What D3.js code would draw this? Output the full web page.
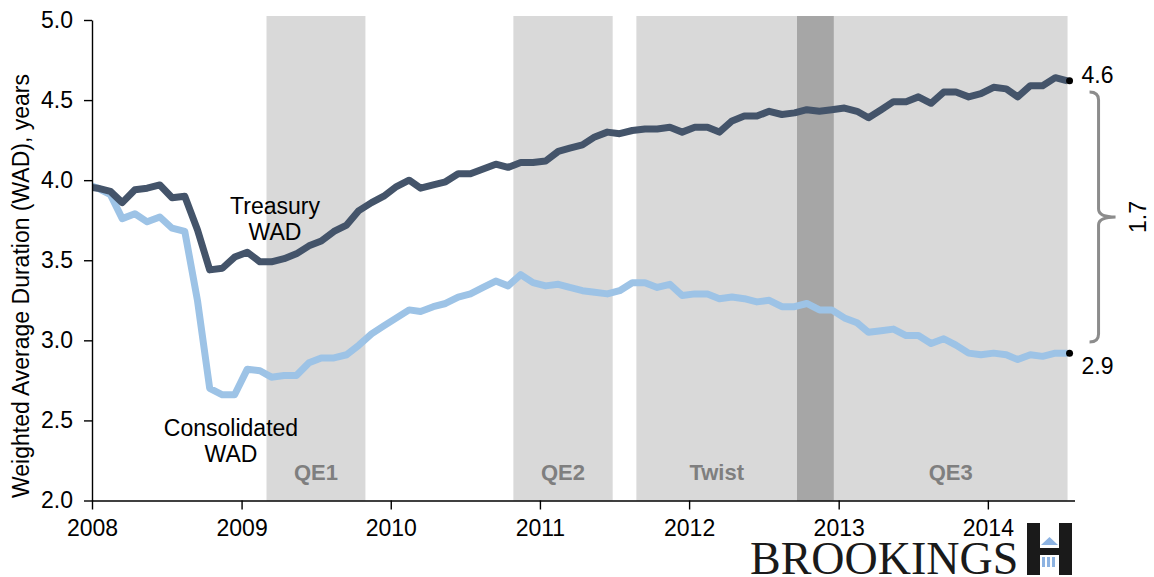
<!DOCTYPE html>
<html>
<head>
<meta charset="utf-8">
<script src="https://cdn.jsdelivr.net/npm/d3@7"></script>
<style>
  body { margin: 0; background: #fff; }
  svg { display: block; font-family: "Liberation Sans", Arial, sans-serif; }
</style>
</head>
<body>
<svg id="chart" width="1154" height="577"></svg>
<script>
// monthly observations, Dec 2007 .. Jul 2014 (plotted mid-month)
var startMonth = new Date(2007, 11, 15);

var treasury = [3.96,
  3.95, 3.93, 3.86, 3.94, 3.95, 3.97, 3.89, 3.90, 3.69, 3.44, 3.45, 3.52,
  3.55, 3.49, 3.49, 3.51, 3.54, 3.59, 3.62, 3.68, 3.72, 3.81, 3.86, 3.90,
  3.96, 4.00, 3.95, 3.97, 3.99, 4.04, 4.04, 4.07, 4.10, 4.08, 4.11, 4.11,
  4.12, 4.18, 4.20, 4.22, 4.27, 4.30, 4.29, 4.31, 4.32, 4.32, 4.33, 4.30,
  4.33, 4.33, 4.30, 4.37, 4.40, 4.40, 4.43, 4.41, 4.42, 4.44, 4.43, 4.44,
  4.45, 4.43, 4.39, 4.44, 4.49, 4.49, 4.52, 4.48, 4.55, 4.55, 4.52, 4.54,
  4.58, 4.57, 4.52, 4.59, 4.59, 4.64, 4.62];

var consolidated = [3.98,
  3.95, 3.91, 3.76, 3.79, 3.74, 3.77, 3.70, 3.68, 3.25, 2.70, 2.66, 2.66,
  2.82, 2.81, 2.77, 2.78, 2.78, 2.86, 2.89, 2.89, 2.91, 2.97, 3.04, 3.09,
  3.14, 3.19, 3.18, 3.21, 3.23, 3.27, 3.29, 3.33, 3.37, 3.34, 3.41, 3.36,
  3.34, 3.35, 3.33, 3.31, 3.30, 3.29, 3.31, 3.36, 3.36, 3.33, 3.35, 3.28,
  3.29, 3.29, 3.26, 3.27, 3.26, 3.24, 3.25, 3.21, 3.21, 3.23, 3.19, 3.19,
  3.14, 3.11, 3.05, 3.06, 3.07, 3.03, 3.03, 2.98, 3.01, 2.97, 2.92, 2.91,
  2.92, 2.91, 2.88, 2.91, 2.90, 2.92, 2.92];

// policy periods
var programs = [
  {name: "QE1",   start: new Date(2009, 2, 3),   end: new Date(2009, 9, 31)},
  {name: "QE2",   start: new Date(2010, 9, 28),  end: new Date(2011, 5, 28)},
  {name: "Twist", start: new Date(2011, 7, 25),  end: new Date(2012, 11, 20)},
  {name: "QE3",   start: new Date(2012, 8, 21),  end: null}
];
var overlap = {start: new Date(2012, 8, 21), end: new Date(2012, 11, 20)};

var yTicks = [2.0, 2.5, 3.0, 3.5, 4.0, 4.5, 5.0];
var yearTicks = [2008, 2009, 2010, 2011, 2012, 2013, 2014];

var dates = treasury.map(function(d, i) { return d3.timeMonth.offset(startMonth, i); });
var lastDate = dates[dates.length - 1];
programs[3].end = lastDate;

var svg = d3.select("#chart");
var plotLeft = 92, plotTop = 20, plotBottom = 500.5;

var x = d3.scaleTime()
    .domain([new Date(2008, 0, 1), new Date(2014, 7, 1)])
    .range([plotLeft, 1074.5]);
var y = d3.scaleLinear().domain([2, 5]).range([plotBottom, plotTop]);

// shaded periods
var shadeTop = y(5.025);
svg.append("g").selectAll("rect")
    .data(programs)
  .enter().append("rect")
    .attr("x", function(d) { return x(d.start); })
    .attr("width", function(d) { return x(d.end) - x(d.start); })
    .attr("y", shadeTop)
    .attr("height", plotBottom - shadeTop)
    .style("fill", "#d9d9d9");

svg.append("rect")
    .attr("x", x(overlap.start))
    .attr("width", x(overlap.end) - x(overlap.start))
    .attr("y", shadeTop)
    .attr("height", plotBottom - shadeTop)
    .style("fill", "#a6a6a6");

svg.append("g").selectAll("text")
    .data(programs)
  .enter().append("text")
    .attr("x", function(d) {
      if (d.name == "QE3") return x(overlap.end) + (x(d.end) - x(overlap.end)) / 2;
      if (d.name == "Twist") return (x(d.start) + x(overlap.start)) / 2;
      return (x(d.start) + x(d.end)) / 2;
    })
    .attr("y", 480)
    .attr("text-anchor", "middle")
    .style("font-size", "22px")
    .style("font-weight", "bold")
    .style("fill", "#7f7f7f")
    .text(function(d) { return d.name; });

// lines
svg.append("clipPath").attr("id", "plotclip")
  .append("rect").attr("x", plotLeft).attr("y", 0).attr("width", 1000).attr("height", 577);

var line = d3.line()
    .x(function(d, i) { return x(dates[i]); })
    .y(function(d) { return y(d); });

svg.append("path")
    .datum(consolidated)
    .attr("clip-path", "url(#plotclip)")
    .attr("d", line)
    .style("fill", "none")
    .style("stroke", "#9dc3e6")
    .style("stroke-width", 7)
    .style("stroke-linejoin", "round");

svg.append("path")
    .datum(treasury)
    .attr("clip-path", "url(#plotclip)")
    .attr("d", line)
    .style("fill", "none")
    .style("stroke", "#44546a")
    .style("stroke-width", 7)
    .style("stroke-linejoin", "round");

// axes
var yAxis = svg.append("g")
    .attr("transform", "translate(" + plotLeft + ",0)")
    .call(d3.axisLeft(y).tickValues(yTicks).tickFormat(d3.format(".1f")).tickSize(8).tickPadding(11).tickSizeOuter(0));
var xAxis = svg.append("g")
    .attr("transform", "translate(0," + plotBottom + ")")
    .call(d3.axisBottom(x).tickValues(yearTicks.map(function(d) { return new Date(d, 0, 1); }))
      .tickFormat(d3.timeFormat("%Y")).tickSize(9).tickPadding(10).tickSizeOuter(0));
[yAxis, xAxis].forEach(function(a) {
  a.selectAll("path, line").style("stroke", "#000").style("stroke-width", 1.4);
  a.selectAll("text").style("font-size", "23px").style("fill", "#000")
    .style("font-family", "'Liberation Sans', Arial, sans-serif");
});

svg.append("text")
    .attr("transform", "translate(29,286) rotate(-90)")
    .attr("text-anchor", "middle")
    .style("font-size", "23px")
    .text("Weighted Average Duration (WAD), years");

// series labels
var labels = [
  {lines: ["Treasury", "WAD"], x: 275, y: 214},
  {lines: ["Consolidated", "WAD"], x: 231, y: 436}
];
labels.forEach(function(l) {
  var t = svg.append("text")
      .attr("x", l.x).attr("y", l.y)
      .attr("text-anchor", "middle")
      .style("font-size", "23px");
  l.lines.forEach(function(s, i) {
    t.append("tspan").attr("x", l.x).attr("dy", i ? 26 : 0).text(s);
  });
});

// end points
var ends = [
  {v: treasury[treasury.length - 1], dy: -1},
  {v: consolidated[consolidated.length - 1], dy: 1}
];
svg.selectAll(".enddot")
    .data(ends)
  .enter().append("circle")
    .attr("class", "enddot")
    .attr("cx", x(lastDate) + 2)
    .attr("cy", function(d) { return y(d.v); })
    .attr("r", 3.5)
    .style("fill", "#000");
svg.selectAll(".endlab")
    .data(ends)
  .enter().append("text")
    .attr("class", "endlab")
    .attr("x", x(lastDate) + 14)
    .attr("y", function(d) { return y(d.v) + (d.dy < 0 ? 2 : 21); })
    .style("font-size", "23px")
    .text(function(d) { return d3.format(".1f")(d.v); });

// bracket with the gap
var bx = x(lastDate) + 31;
var bTop = y(4.55), bBot = y(2.99), bMid = (bTop + bBot) / 2;
var bp = d3.path();
bp.moveTo(bx - 9, bTop);
bp.quadraticCurveTo(bx, bTop, bx, bTop + 8);
bp.lineTo(bx, bMid - 8);
bp.quadraticCurveTo(bx, bMid, bx + 17, bMid);
bp.quadraticCurveTo(bx, bMid, bx, bMid + 8);
bp.lineTo(bx, bBot - 8);
bp.quadraticCurveTo(bx, bBot, bx - 9, bBot);
svg.append("path")
    .attr("d", bp.toString())
    .style("fill", "none")
    .style("stroke", "#8c8c8c")
    .style("stroke-width", 3);

svg.append("text")
    .attr("transform", "translate(" + (bx + 47) + "," + bMid + ") rotate(-90)")
    .attr("text-anchor", "middle")
    .style("font-size", "23px")
    .text(d3.format(".1f")(ends[0].v - ends[1].v));

// logo
svg.append("text")
    .attr("x", 750).attr("y", 574)
    .style("font-family", "'Liberation Serif', 'Times New Roman', serif")
    .style("font-size", "46px")
    .style("fill", "#1a1a1a")
    .text("BROOKINGS");
var logo = svg.append("g").attr("transform", "translate(1027,523)");
logo.append("rect").attr("x", 0).attr("y", 0).attr("width", 13).attr("height", 52).style("fill", "#1a1a1a");
logo.append("rect").attr("x", 32).attr("y", 0).attr("width", 13).attr("height", 52).style("fill", "#1a1a1a");
logo.append("rect").attr("x", 13).attr("y", 25).attr("width", 19).attr("height", 7).style("fill", "#1a1a1a");
logo.append("path").attr("d", "M14,22 L22.5,14 L31,22 Z").style("fill", "#8db3e2");
[15, 20, 25].forEach(function(cx) {
  logo.append("rect").attr("x", cx).attr("y", 34).attr("width", 3).attr("height", 10).style("fill", "#8db3e2");
});
</script>
</body>
</html>
